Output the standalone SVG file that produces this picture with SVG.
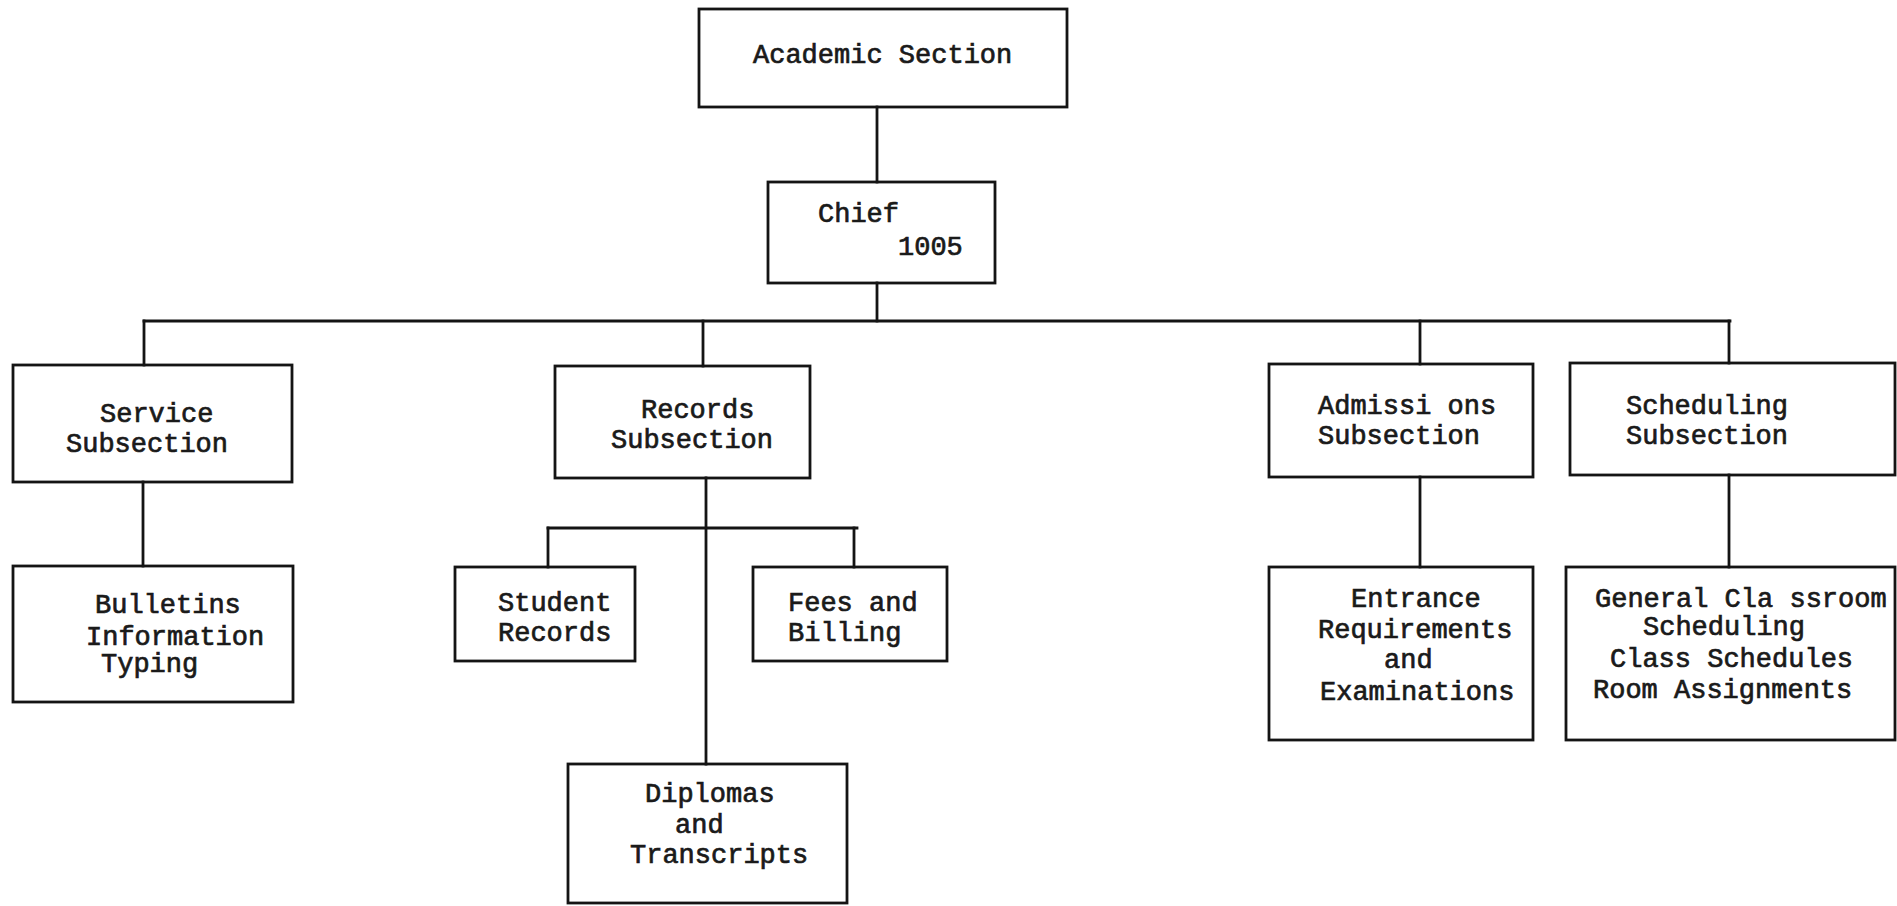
<svg xmlns="http://www.w3.org/2000/svg" width="1897" height="906" viewBox="0 0 1897 906">
  <style>
    .box { fill: none; stroke: #141414; stroke-width: 2.8; }
    .wire { fill: none; stroke: #141414; stroke-width: 2.8; stroke-linecap: square; }
    .lbl { font-family: "Liberation Mono", "Courier New", monospace; font-size: 27px; fill: #1a1a1a; stroke: #1a1a1a; stroke-width: 0.7; }
  </style>
  <rect width="1897" height="906" fill="#ffffff"/>

  <!-- connectors -->
  <g id="connectors">
    <path class="wire" d="M877,107 V182"/>
    <path class="wire" d="M877,283 V321"/>
    <path class="wire" d="M144,321 H1730"/>
    <path class="wire" d="M144,321 V365"/>
    <path class="wire" d="M703,321 V366"/>
    <path class="wire" d="M1420,321 V364"/>
    <path class="wire" d="M1729,321 V363"/>
    <path class="wire" d="M143,482 V566"/>
    <path class="wire" d="M706,478 V764"/>
    <path class="wire" d="M548,528 H857"/>
    <path class="wire" d="M548,528 V567"/>
    <path class="wire" d="M854,528 V567"/>
    <path class="wire" d="M1420,477 V567"/>
    <path class="wire" d="M1729,475 V567"/>
  </g>

  <g id="academic-section">
    <rect class="box" x="699" y="9" width="368" height="98"/>
    <text class="lbl" x="753" y="63">Academic Section</text>
  </g>

  <g id="chief">
    <rect class="box" x="768" y="182" width="227" height="101"/>
    <text class="lbl" x="818" y="222">Chief</text>
    <text class="lbl" x="898" y="255">1005</text>
  </g>

  <g id="service-subsection">
    <rect class="box" x="13" y="365" width="279" height="117"/>
    <text class="lbl" x="100" y="422">Service</text>
    <text class="lbl" x="66" y="452">Subsection</text>
  </g>

  <g id="bulletins">
    <rect class="box" x="13" y="566" width="280" height="136"/>
    <text class="lbl" x="95" y="613">Bulletins</text>
    <text class="lbl" x="86" y="645">Information</text>
    <text class="lbl" x="101" y="672">Typing</text>
  </g>

  <g id="records-subsection">
    <rect class="box" x="555" y="366" width="255" height="112"/>
    <text class="lbl" x="641" y="418">Records</text>
    <text class="lbl" x="611" y="448">Subsection</text>
  </g>

  <g id="student-records">
    <rect class="box" x="455" y="567" width="180" height="94"/>
    <text class="lbl" x="498" y="611">Student</text>
    <text class="lbl" x="498" y="641">Records</text>
  </g>

  <g id="fees-billing">
    <rect class="box" x="753" y="567" width="194" height="94"/>
    <text class="lbl" x="788" y="611">Fees and</text>
    <text class="lbl" x="788" y="641">Billing</text>
  </g>

  <g id="diplomas">
    <rect class="box" x="568" y="764" width="279" height="139"/>
    <text class="lbl" x="645" y="802">Diplomas</text>
    <text class="lbl" x="675" y="833">and</text>
    <text class="lbl" x="630" y="863">Transcripts</text>
  </g>

  <g id="admissions-subsection">
    <rect class="box" x="1269" y="364" width="264" height="113"/>
    <text class="lbl" x="1318" y="414">Admissi ons</text>
    <text class="lbl" x="1318" y="444">Subsection</text>
  </g>

  <g id="entrance">
    <rect class="box" x="1269" y="567" width="264" height="173"/>
    <text class="lbl" x="1351" y="607">Entrance</text>
    <text class="lbl" x="1318" y="638">Requirements</text>
    <text class="lbl" x="1384" y="668">and</text>
    <text class="lbl" x="1320" y="700">Examinations</text>
  </g>

  <g id="scheduling-subsection">
    <rect class="box" x="1570" y="363" width="325" height="112"/>
    <text class="lbl" x="1626" y="414">Scheduling</text>
    <text class="lbl" x="1626" y="444">Subsection</text>
  </g>

  <g id="classroom-scheduling">
    <rect class="box" x="1566" y="567" width="329" height="173"/>
    <text class="lbl" x="1595" y="607">General Cla ssroom</text>
    <text class="lbl" x="1643" y="635">Scheduling</text>
    <text class="lbl" x="1610" y="667">Class Schedules</text>
    <text class="lbl" x="1593" y="698">Room Assignments</text>
  </g>
</svg>
